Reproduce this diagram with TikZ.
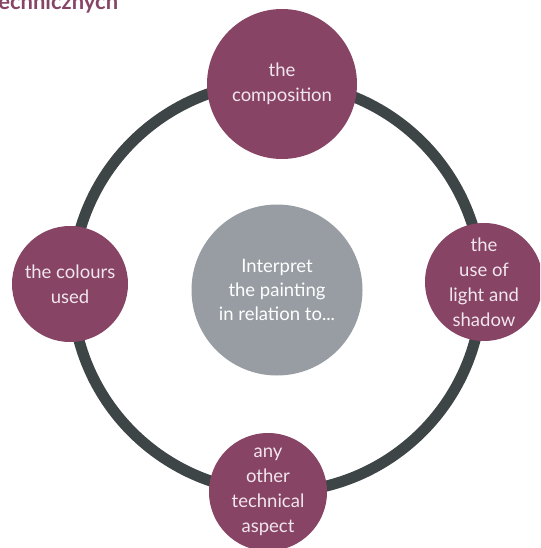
\documentclass[tikz,border=0pt]{standalone}
\usepackage{fontspec}
\setmainfont{Lato}
\definecolor{plum}{HTML}{874465}
\definecolor{ringgray}{HTML}{3D4547}
\definecolor{midgray}{HTML}{979DA2}
\definecolor{paletext}{HTML}{F2E6EE}
\begin{document}
\begin{tikzpicture}[x=1pt,y=-1pt,
  satnode/.style={circle,fill=plum,text=paletext,align=center,inner sep=0pt,font=\fontsize{18.5}{25}\selectfont},
  hubnode/.style={circle,fill=midgray,text=white,align=center,inner sep=0pt,font=\fontsize{18.5}{24}\selectfont},
  ringline/.style={draw=ringgray,line width=11pt}]
\useasboundingbox (0,0) rectangle (540,548);
\clip (0,0) rectangle (540,548);
\node[anchor=base west,text=plum,font=\fontsize{22}{26}\selectfont\bfseries,inner sep=0pt] (title) at (-10,10) {technicznych};
\coordinate (ringc) at (277,287);
\draw[ringline] (ringc) circle[radius=205];
\node[hubnode,minimum size=171pt] (hub) at (277,290) {Interpret\\the painting\\in relation to...};
\node[satnode,minimum size=150pt] (top) at (282,84) {the\\composition};
\node[satnode,minimum size=116pt] (left) at (70,284) {the colours\\used};
\node[satnode,minimum size=118pt] (right) at (484,282) {the\\use of\\light and\\shadow};
\node[satnode,minimum size=118pt] (bottom) at (268,492) {any\\other\\technical\\aspect};
\end{tikzpicture}
\end{document}
